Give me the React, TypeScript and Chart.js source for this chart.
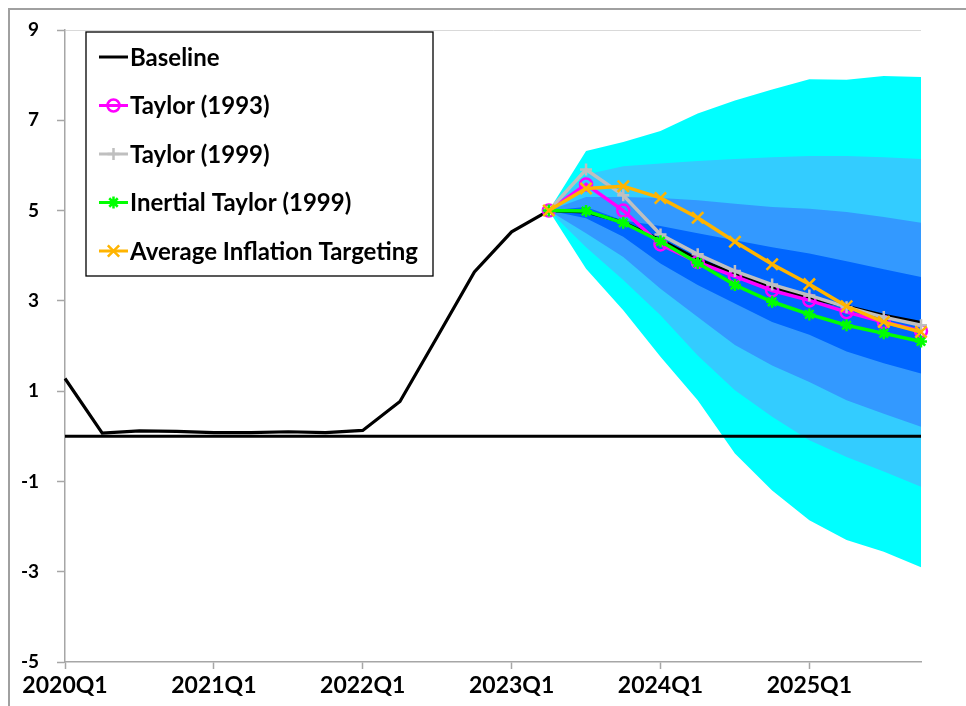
import { useEffect, useRef } from "react";
import { Chart, Plugin, registerables } from "chart.js";
import { drawPoint } from "chart.js/helpers";
Chart.register(...registerables);

const quarters = [
  "2020Q1", "2020Q2", "2020Q3", "2020Q4",
  "2021Q1", "2021Q2", "2021Q3", "2021Q4",
  "2022Q1", "2022Q2", "2022Q3", "2022Q4",
  "2023Q1", "2023Q2", "2023Q3", "2023Q4",
  "2024Q1", "2024Q2", "2024Q3", "2024Q4",
  "2025Q1", "2025Q2", "2025Q3", "2025Q4",
];
const yTicks = [-5, -3, -1, 1, 3, 5, 7, 9];

const baseline = [
  1.28, 0.07, 0.12, 0.11, 0.08, 0.08, 0.1, 0.08,
  0.13, 0.77, 2.2, 3.64, 4.53, 5.0, 4.97, 4.74,
  4.35, 3.92, 3.6, 3.3, 3.06, 2.88, 2.68, 2.52,
];
// scenario paths start at 2023Q2
const taylor1993 = [5.0, 5.58, 5.0, 4.25, 3.86, 3.54, 3.23, 3.01, 2.75, 2.53, 2.33];
const taylor1999 = [5.0, 5.91, 5.34, 4.47, 4.03, 3.66, 3.36, 3.12, 2.86, 2.64, 2.46];
const inertial1999 = [5.0, 4.99, 4.73, 4.32, 3.84, 3.35, 2.98, 2.7, 2.46, 2.28, 2.1];
const avgInflation = [5.0, 5.49, 5.54, 5.28, 4.84, 4.31, 3.81, 3.37, 2.88, 2.53, 2.31];

// fan chart bands, outer to inner
const outerUpper = [5.0, 6.32, 6.52, 6.76, 7.15, 7.44, 7.68, 7.91, 7.9, 7.98, 7.96];
const outerLower = [5.0, 3.71, 2.79, 1.76, 0.8, -0.38, -1.2, -1.86, -2.3, -2.56, -2.9];
const band2Upper = [5.0, 5.8, 5.98, 6.04, 6.1, 6.14, 6.18, 6.21, 6.21, 6.18, 6.14];
const band2Lower = [5.0, 4.19, 3.46, 2.68, 1.79, 1.02, 0.43, -0.09, -0.46, -0.78, -1.12];
const band3Upper = [5.0, 5.3, 5.3, 5.28, 5.23, 5.15, 5.08, 5.04, 4.97, 4.86, 4.73];
const band3Lower = [5.0, 4.5, 3.97, 3.27, 2.64, 2.02, 1.57, 1.2, 0.8, 0.5, 0.21];
const band4Upper = [5.0, 5.08, 4.78, 4.66, 4.5, 4.34, 4.19, 4.05, 3.88, 3.7, 3.53];
const band4Lower = [5.0, 4.83, 4.42, 3.83, 3.35, 2.94, 2.53, 2.25, 1.88, 1.62, 1.39];

const zeroLine = quarters.map(() => 0);

const fc = (v: number[]) => [...Array(quarters.length - v.length).fill(null), ...v];

const FONT = "Lato";
const AXIS_GREY = "#a6a6a6";

const boxLegend: Plugin = {
  id: "boxLegend",
  afterDraw(chart) {
    const { ctx, chartArea } = chart;
    const x0 = chartArea.left + 21;
    const y0 = chartArea.top + 2;
    ctx.save();
    ctx.fillStyle = "#fff";
    ctx.fillRect(x0, y0, 347, 244);
    ctx.strokeStyle = "#000";
    ctx.lineWidth = 1.3;
    ctx.strokeRect(x0, y0, 347, 244);
    chart.data.datasets.forEach((ds: any) => {
      if (ds.legendRow === undefined) return;
      const y = y0 + 25 + ds.legendRow * 48.5;
      ctx.strokeStyle = ds.borderColor;
      ctx.lineWidth = 3;
      ctx.beginPath();
      ctx.moveTo(x0 + 13, y);
      ctx.lineTo(x0 + 42, y);
      ctx.stroke();
      if (ds.pointRadius > 0) {
        ctx.fillStyle = "rgba(0,0,0,0)";
        ctx.lineWidth = ds.pointBorderWidth;
        drawPoint(
          ctx,
          { pointStyle: ds.pointStyle, radius: ds.pointRadius, borderWidth: ds.pointBorderWidth, rotation: 0 } as any,
          x0 + 27.5,
          y
        );
      }
      ctx.fillStyle = "#000";
      ctx.font = `bold 24px ${FONT}`;
      ctx.textBaseline = "middle";
      ctx.fillText(ds.label, x0 + 44, y + 1);
    });
    ctx.restore();
  },
};

const band = (data: number[], color: string, fill: number | false, order: number) => ({
  label: "",
  data: fc(data),
  borderWidth: 0,
  borderColor: "rgba(0,0,0,0)",
  backgroundColor: color,
  pointRadius: 0,
  fill,
  order,
});

const scenario = (
  label: string,
  data: number[],
  color: string,
  pointStyle: string,
  radius: number,
  row: number,
  order: number
) => ({
  label,
  data: fc(data),
  borderColor: color,
  backgroundColor: "rgba(0,0,0,0)",
  borderWidth: 3.5,
  pointStyle,
  pointRadius: radius,
  pointBorderWidth: 2.5,
  pointBorderColor: color,
  pointBackgroundColor: "rgba(0,0,0,0)",
  fill: false,
  clip: false,
  legendRow: row,
  order,
});

export default function App() {
  const ref = useRef<HTMLCanvasElement>(null);

  useEffect(() => {
    const chart = new Chart(ref.current!, {
      type: "line",
      data: {
        labels: quarters,
        datasets: [
          {
            label: "Baseline",
            data: baseline,
            borderColor: "#000",
            backgroundColor: "#000",
            borderWidth: 3.2,
            pointRadius: 0,
            fill: false,
            legendRow: 0,
            order: 5,
          },
          scenario("Taylor (1993)", taylor1993, "#ff00ff", "circle", 6, 1, 4),
          scenario("Taylor (1999)", taylor1999, "#bfbfbf", "cross", 6, 2, 3),
          scenario("Inertial Taylor (1999)", inertial1999, "#00ff00", "star", 6, 3, 2),
          scenario("Average Inflation Targeting", avgInflation, "#ffb400", "crossRot", 8, 4, 1),
          {
            label: "",
            data: zeroLine,
            borderColor: "#000",
            borderWidth: 3,
            pointRadius: 0,
            fill: false,
            order: 6,
          },
          band(outerUpper, "#00ffff", 7, 10),
          band(outerLower, "#00ffff", false, 10),
          band(band2Upper, "#33ccff", 9, 9),
          band(band2Lower, "#33ccff", false, 9),
          band(band3Upper, "#3399ff", 11, 8),
          band(band3Lower, "#3399ff", false, 8),
          band(band4Upper, "#0066ff", 13, 7),
          band(band4Lower, "#0066ff", false, 7),
        ] as any,
      },
      options: {
        animation: false,
        responsive: true,
        maintainAspectRatio: false,
        layout: { padding: { top: 20, right: 49, left: 0, bottom: 0 } },
        elements: { line: { tension: 0 } },
        plugins: {
          legend: { display: false },
          tooltip: { enabled: false },
        },
        scales: {
          x: {
            offset: false,
            afterFit: (s: any) => {
              s.height = 44;
            },
            grid: {
              drawOnChartArea: false,
              tickLength: 7,
              tickColor: AXIS_GREY,
              tickWidth: 1.5,
            },
            border: { color: AXIS_GREY, width: 1.5 },
            ticks: {
              autoSkip: false,
              maxRotation: 0,
              padding: 3,
              color: "#000",
              font: { family: FONT, weight: "bold", size: 23 },
              callback: (_v: any, i: number) => (i % 4 === 0 ? quarters[i] : undefined),
            },
          },
          y: {
            min: yTicks[0],
            max: yTicks[yTicks.length - 1],
            afterFit: (s: any) => {
              s.width = 55;
              s.paddingTop = 0;
              s.paddingBottom = 0;
            },
            afterBuildTicks: (s: any) => {
              s.ticks = yTicks.map((v) => ({ value: v }));
            },
            grid: {
              color: (c: any) => (c.tick && c.tick.value === 9 ? "#d9d9d9" : "rgba(0,0,0,0)"),
              tickColor: AXIS_GREY,
              tickLength: 8,
              tickWidth: 1.5,
            },
            border: { color: AXIS_GREY, width: 1.5 },
            ticks: {
              padding: 18,
              color: "#000",
              font: { family: FONT, weight: "bold", size: 19 },
            },
          },
        },
      },
      plugins: [boxLegend],
    });
    return () => chart.destroy();
  }, []);

  return (
    <div
      style={{
        position: "fixed",
        left: 8,
        top: 8,
        width: 1000,
        height: 700,
        boxSizing: "border-box",
        border: "2px solid #a0a0a0",
        background: "#fff",
      }}
    >
      <div style={{ position: "relative", width: 960, height: 696 }}>
        <canvas ref={ref}></canvas>
      </div>
    </div>
  );
}
